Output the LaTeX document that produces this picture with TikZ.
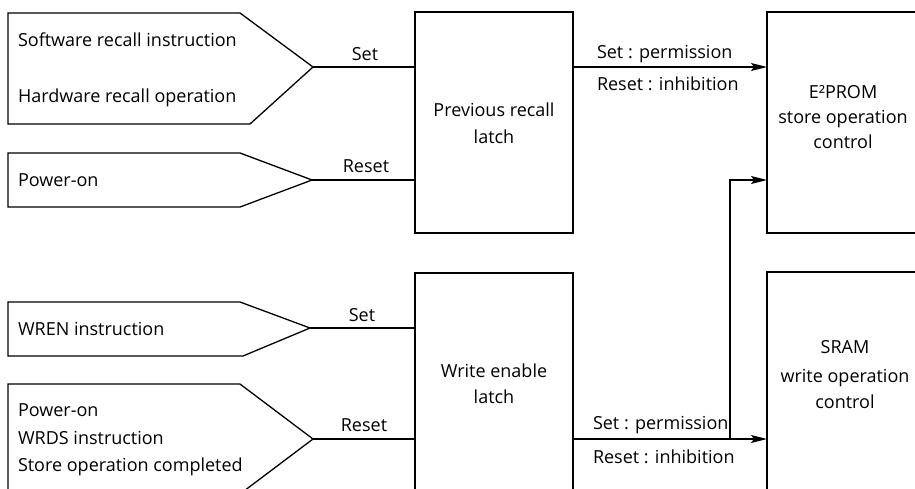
\documentclass[tikz,border=0pt]{standalone}
\usepackage{fontspec}
\setmainfont{Open Sans}
\usetikzlibrary{arrows.meta}
\begin{document}
\begin{tikzpicture}[x=1pt,y=-1pt,
  line width=1.3pt,
  every node/.style={inner sep=0pt, outer sep=0pt},
  txt/.style={font=\fontsize{18}{22}\selectfont},
  blk/.style={draw, line width=1.3pt},
  shp/.style={draw, line width=1.3pt, line join=miter},
  arr/.style={-{Stealth[length=16pt,width=8pt,inset=3pt]}}]
\useasboundingbox (0,0) rectangle (915,488);

% blocks
\node[blk, minimum width=158pt, minimum height=221pt] (prl) at (494,122.5) {};
\node[blk, minimum width=200pt, minimum height=221pt] (eep) at (867,122.5) {};
\node[blk, minimum width=158pt, minimum height=240pt] (wel) at (494,393) {};
\node[blk, minimum width=200pt, minimum height=240pt] (sram) at (867,392) {};

% input shapes
\coordinate (p1) at (313,67);
\coordinate (p2) at (312,180);
\coordinate (p3) at (310,328);
\coordinate (p4) at (313,439);
\draw[shp] (8,13) -- (240,13) -- (p1) -- (250,124) -- (8,124) -- cycle;
\draw[shp] (8,153) -- (240,153) -- (p2) -- (240,207) -- (8,207) -- cycle;
\draw[shp] (8,302) -- (240,302) -- (p3) -- (243,356) -- (8,356) -- cycle;
\draw[shp] (8,384) -- (240,384) -- (p4) -- (240,494) -- (8,494) -- cycle;

% input texts
\node[txt, anchor=base west] (i1) at (18,46.7) {Software recall instruction};
\node[txt, anchor=base west] (i2) at (18,102) {Hardware recall operation};
\node[txt, anchor=base west] (i3) at (18,186.7) {Power-on};
\node[txt, anchor=base west] (i4) at (18,335.7) {WREN instruction};
\node[txt, anchor=base west] (i5) at (18,416.7) {Power-on};
\node[txt, anchor=base west] (i6) at (18,444) {WRDS instruction};
\node[txt, anchor=base west] (i7) at (18,471.7) {Store operation completed};

% set / reset connectors
\draw (p1) -- (p1 -| prl.west);
\draw (p2) -- (p2 -| prl.west);
\draw (p3) -- (p3 -| wel.west);
\draw (p4) -- (p4 -| wel.west);
\node[txt, anchor=base] (s1) at (365,60) {Set};
\node[txt, anchor=base] (r1) at (366,172.7) {Reset};
\node[txt, anchor=base] (s2) at (362,321.7) {Set};
\node[txt, anchor=base] (r2) at (364,431.7) {Reset};

% block texts
\node[txt, anchor=base] (prl1) at (494,116) {Previous recall};
\node[txt, anchor=base] (prl2) at (494,143) {latch};
\node[txt, anchor=base] (wel1) at (494,377) {Write enable};
\node[txt, anchor=base] (wel2) at (494,403) {latch};
\node[txt, anchor=base] (eep1) at (843,98) {E²PROM};
\node[txt, anchor=base] (eep2) at (843,123) {store operation};
\node[txt, anchor=base] (eep3) at (843,148) {control};
\node[txt, anchor=base] (sr1) at (845,353) {SRAM};
\node[txt, anchor=base] (sr2) at (845,382) {write operation};
\node[txt, anchor=base] (sr3) at (845,408) {control};

% outputs
\coordinate (j) at (730,439);
\draw[arr] (p1 -| prl.east) -- (p1 -| eep.west);
\draw[arr] (p4 -| wel.east) -- (p4 -| sram.west);
\draw[arr] (j) |- (p2 -| eep.west);
\node[txt, anchor=base west] (o1) at (597,58) {Set : permission};
\node[txt, anchor=base west] (o2) at (597,90) {Reset : inhibition};
\node[txt, anchor=base west] (o3) at (593,429) {Set : permission};
\node[txt, anchor=base west] (o4) at (593,463) {Reset : inhibition};
\end{tikzpicture}
\end{document}
